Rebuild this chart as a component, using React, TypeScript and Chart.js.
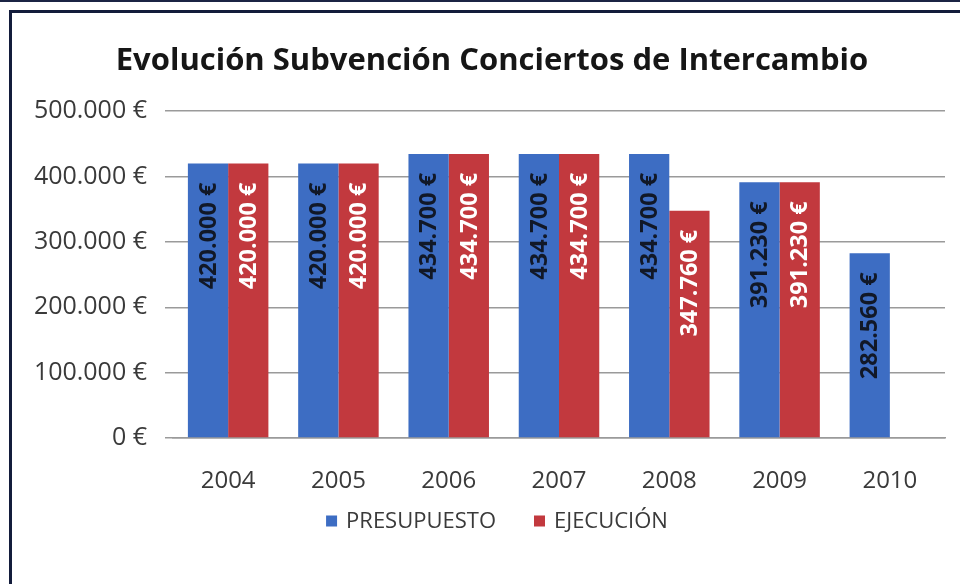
import React, { useEffect, useRef } from "react";
import { Chart, registerables } from "chart.js";

Chart.register(...registerables);

const years = ["2004", "2005", "2006", "2007", "2008", "2009", "2010"];
const presupuesto = [420000, 420000, 434700, 434700, 434700, 391230, 282560];
const ejecucion: (number | null)[] = [420000, 420000, 434700, 434700, 347760, 391230, null];
const seriesNames = ["PRESUPUESTO", "EJECUCIÓN"];
const titleText = "Evolución Subvención Conciertos de Intercambio";
const yTicks = [0, 100000, 200000, 300000, 400000, 500000];

const BLUE = "#3D6DC3";
const RED = "#C2393E";
const FONT = "'Open Sans', 'DejaVu Sans', sans-serif";

function fmtEuro(v: number): string {
  const s = Math.round(v).toString().replace(/\B(?=(\d{3})+(?!\d))/g, ".");
  return s + " €";
}

const titleShiftPlugin = {
  id: "titleShift",
  afterLayout(chart: any) {
    const t = chart.titleBlock;
    if (t) {
      t.left = t.left + 29;
    }
  },
};

const labelPlugin = {
  id: "barLabels",
  afterDatasetsDraw(chart: any) {
    const ctx = chart.ctx;
    const colors = ["#111827", "#ffffff"];
    chart.data.datasets.forEach((ds: any, di: number) => {
      const meta = chart.getDatasetMeta(di);
      meta.data.forEach((bar: any, i: number) => {
        const v = ds.data[i];
        if (v === null || v === undefined) return;
        ctx.save();
        ctx.translate(bar.x, bar.y + 19);
        ctx.rotate(-Math.PI / 2);
        ctx.font = `bold 23.5px ${FONT}`;
        ctx.fillStyle = colors[di];
        ctx.textAlign = "right";
        ctx.textBaseline = "middle";
        ctx.fillText(fmtEuro(v), 0, 1);
        ctx.restore();
      });
    });
  },
};

const legendPlugin = {
  id: "customLegend",
  afterDraw(chart: any) {
    const ctx = chart.ctx;
    const ds = chart.data.datasets;
    ctx.save();
    ctx.font = `22px ${FONT}`;
    const box = 11;
    const gapBoxText = 9;
    const gapItems = 38;
    const widths = ds.map((d: any) => box + gapBoxText + ctx.measureText(d.label).width);
    const total = widths.reduce((a: number, b: number) => a + b, 0) + gapItems * (ds.length - 1);
    let x = chart.width / 2 + 17 - total / 2;
    const y = chart.scales.x.bottom + 21;
    ds.forEach((d: any, i: number) => {
      ctx.fillStyle = d.backgroundColor;
      ctx.fillRect(x, y - box / 2, box, box);
      ctx.fillStyle = "#3a3a3a";
      ctx.textAlign = "left";
      ctx.textBaseline = "middle";
      ctx.fillText(d.label, x + box + gapBoxText, y + 1);
      x += widths[i] + gapItems;
    });
    ctx.restore();
  },
};

export default function App() {
  const ref = useRef<HTMLCanvasElement | null>(null);
  useEffect(() => {
    document.body.style.margin = "0";
    const c = ref.current;
    if (!c) return;
    const chart = new Chart(c, {
      type: "bar",
      data: {
        labels: years,
        datasets: [
          {
            label: seriesNames[0],
            data: presupuesto,
            backgroundColor: BLUE,
            categoryPercentage: 0.73,
            barPercentage: 1.0,
          },
          {
            label: seriesNames[1],
            data: ejecucion,
            backgroundColor: RED,
            categoryPercentage: 0.73,
            barPercentage: 1.0,
          },
        ],
      },
      options: {
        responsive: false,
        animation: false,
        layout: { padding: { top: 0, left: 10, right: 15, bottom: 84 } },
        plugins: {
          title: {
            display: true,
            text: titleText,
            color: "#161616",
            font: { family: FONT, size: 31, weight: "bold" },
            padding: { top: 43, bottom: 31 },
          },
          legend: { display: false },
          tooltip: { enabled: false },
        },
        scales: {
          x: {
            grid: { display: false, drawTicks: false },
            border: { display: true, color: "#9a9a9a", width: 1.5 },
            ticks: {
              color: "#3a3a3a",
              font: { family: FONT, size: 24 },
              padding: 29,
            },
            afterFit: (s: any) => {
              s.height = 62;
            },
          },
          y: {
            min: 0,
            max: 500000,
            afterBuildTicks: (s: any) => {
              s.ticks = yTicks.map((v) => ({ value: v }));
            },
            grid: { color: "#9a9a9a", lineWidth: 1.5, drawTicks: true, tickLength: 8 },
            border: { display: false },
            ticks: {
              color: "#3a3a3a",
              font: { family: FONT, size: 25 },
              padding: 18,
              callback: (v: any) => fmtEuro(Number(v)),
            },
            afterFit: (s: any) => {
              s.width = 163;
            },
          },
        },
      },
      plugins: [titleShiftPlugin, labelPlugin, legendPlugin],
    });
    return () => chart.destroy();
  }, []);

  return (
    <div style={{ position: "fixed", left: 0, top: 0, width: 960, height: 584, background: "#fff", overflow: "hidden" }}>
      <div style={{ position: "absolute", left: 0, top: 0, width: 960, height: 2, background: "#1b2444" }} />
      <div
        style={{
          position: "absolute",
          left: 9,
          top: 10,
          width: 951,
          height: 574,
          borderTop: "3px solid #131c3b",
          borderLeft: "3px solid #131c3b",
          boxSizing: "border-box",
        }}
      />
      <canvas ref={ref} width={960} height={584} style={{ position: "absolute", left: 0, top: 0 }} />
    </div>
  );
}
